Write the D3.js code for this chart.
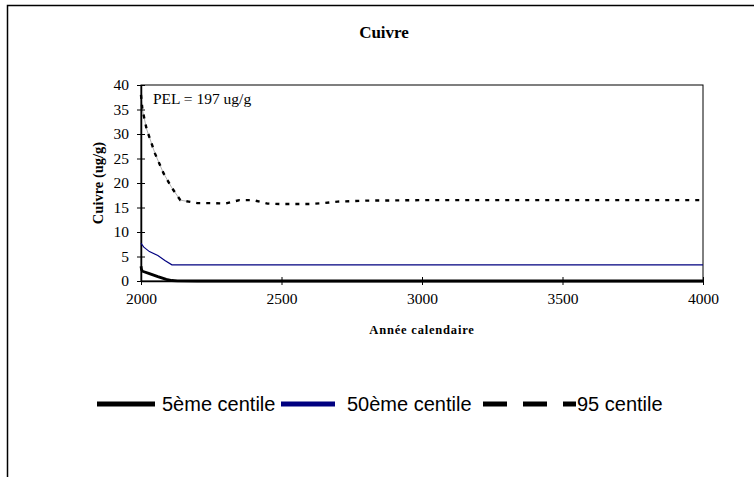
<!DOCTYPE html>
<html>
<head>
<meta charset="utf-8">
<script src="https://cdn.jsdelivr.net/npm/d3@7"></script>
<style>
body{margin:0;background:#fff;}
svg{display:block;}
</style>
</head>
<body>
<svg id="chart" width="754" height="477"></svg>
<script>
// ---- data ----
const xTicks = [2000, 2500, 3000, 3500, 4000];
const yTicks = [0, 5, 10, 15, 20, 25, 30, 35, 40];
const seriesNames = ["5ème centile", "50ème centile", "95 centile"];
const years5  = [2000, 2002, 2005, 2030, 2060, 2090, 2110, 2130, 2200, 4000];
const vals5   = [3.0, 2.3, 2.0, 1.5, 0.9, 0.35, 0.1, 0.02, 0, 0];
const years50 = [2000, 2010, 2030, 2060, 2085, 2110, 2150, 4000];
const vals50  = [7.7, 6.9, 6.0, 5.2, 4.2, 3.3, 3.3, 3.3];
const years95 = [2000, 2005, 2020, 2050, 2080, 2110, 2140, 2170, 2200, 2250, 2300, 2350, 2400, 2450, 2500, 2550, 2600, 2650, 2700, 2800, 3000, 3500, 4000];
const vals95  = [38, 35, 31, 26, 22, 19, 16.5, 16.2, 15.9, 15.9, 15.8, 16.5, 16.5, 15.8, 15.7, 15.7, 15.7, 15.9, 16.2, 16.4, 16.5, 16.5, 16.5];
const pelText = "PEL = 197 ug/g";

const svg = d3.select("#chart");
const L = 141, R = 703, T = 85, B = 281;
const x = d3.scaleLinear().domain([2000, 4000]).range([L, R]);
const y = d3.scaleLinear().domain([0, 40]).range([B, T]);
const serif = "Liberation Serif, Times New Roman, serif";
const sans = "Liberation Sans, Arial, sans-serif";

// outer frame
svg.append("rect").attr("x", 7.5).attr("y", 5.5).attr("width", 800).attr("height", 500)
  .attr("fill", "none").attr("stroke", "#000").attr("stroke-width", 1.5);

// title
svg.append("text").attr("x", 384).attr("y", 38).attr("text-anchor", "middle")
  .attr("font-family", serif).attr("font-weight", "bold")
  .attr("font-size", 17).text("Cuivre");

// plot frame
svg.append("rect").attr("x", L).attr("y", T).attr("width", R - L).attr("height", B - T)
  .attr("fill", "none").attr("stroke", "#000").attr("stroke-width", 1);

// axes
const xAxis = d3.axisBottom(x).tickValues(xTicks).tickFormat(d3.format("d")).tickSize(4).tickSizeOuter(0).tickPadding(8);
const gx = svg.append("g").attr("transform", `translate(0,${B})`).call(xAxis);
gx.selectAll(".tick line").attr("y1", -4).attr("y2", 4);
gx.select(".domain").attr("stroke-width", 1.5);
gx.selectAll("text").attr("font-family", serif).attr("font-size", 15.5).attr("fill", "#000");

const yAxis = d3.axisLeft(y).tickValues(yTicks).tickSize(4).tickSizeOuter(0).tickPadding(8);
const gy = svg.append("g").attr("transform", `translate(${L},0)`).call(yAxis);
gy.selectAll(".tick line").attr("x1", -4).attr("x2", 4);
gy.select(".domain").attr("stroke-width", 1.5);
gy.selectAll("text").attr("font-family", serif).attr("font-size", 15.5).attr("fill", "#000");

// axis titles
svg.append("text").attr("x", 422).attr("y", 334).attr("text-anchor", "middle")
  .attr("font-family", serif).attr("font-weight", "bold").attr("font-size", 12.5)
  .attr("letter-spacing", 0.8).text("Année calendaire");
svg.append("text").attr("transform", `translate(103,${(T + B) / 2}) rotate(-90)`)
  .attr("text-anchor", "middle").attr("font-family", serif).attr("font-weight", "bold")
  .attr("font-size", 14.5).text("Cuivre (ug/g)");

// PEL annotation
svg.append("text").attr("x", 153).attr("y", 104).attr("font-family", serif)
  .attr("font-size", 15.5).text(pelText);

// lines
const line = d3.line().x(d => x(d[0])).y(d => y(d[1]));
const d95 = years95.map((yr, i) => [yr, vals95[i]]);
svg.append("path").datum(d95.slice(0, 8)).attr("d", line).attr("fill", "none")
  .attr("stroke", "#000").attr("stroke-width", 0.5).attr("stroke-opacity", 0.6);
svg.append("path").datum(d95).attr("d", line).attr("fill", "none")
  .attr("stroke", "#000").attr("stroke-width", 2.4).attr("stroke-dasharray", "4,6");

const d50 = years50.map((yr, i) => [yr, vals50[i]]);
svg.append("path").datum(d50).attr("d", line).attr("fill", "none")
  .attr("stroke", "#000080").attr("stroke-width", 1.2);

const d5 = years5.map((yr, i) => [yr, vals5[i]]);
svg.append("path").datum(d5).attr("d", line).attr("fill", "none")
  .attr("stroke", "#000").attr("stroke-width", 2.8);

// legend
const legY = 404;
const leg = [
  {name: seriesNames[0], x1: 97, x2: 155, tx: 162, color: "#000", dash: null},
  {name: seriesNames[1], x1: 281, x2: 335, tx: 347, color: "#000080", dash: null},
  {name: seriesNames[2], x1: 483, x2: 576, tx: 577, color: "#000", dash: "24,16"}
];
leg.forEach(l => {
  svg.append("line").attr("x1", l.x1).attr("x2", l.x2).attr("y1", legY).attr("y2", legY)
    .attr("stroke", l.color).attr("stroke-width", 5)
    .attr("stroke-dasharray", l.dash);
  svg.append("text").attr("x", l.tx).attr("y", legY + 7).attr("font-family", sans)
    .attr("font-size", 20).text(l.name);
});
</script>
</body>
</html>
